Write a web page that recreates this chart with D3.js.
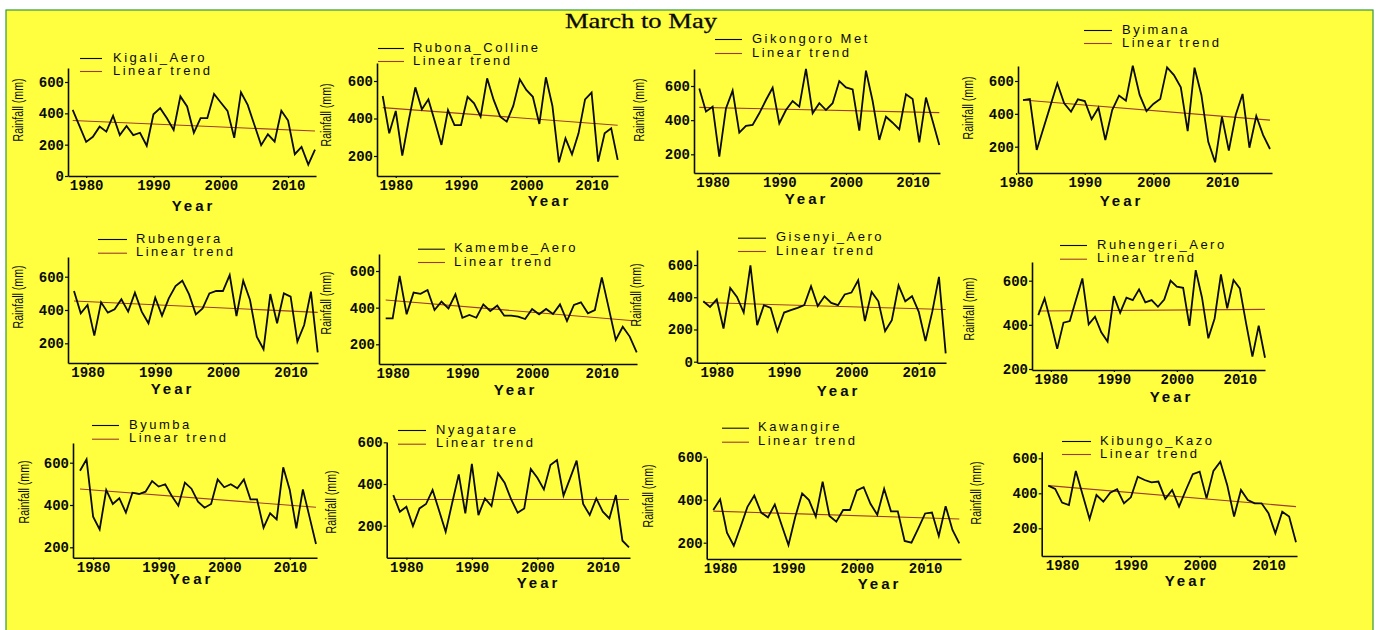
<!DOCTYPE html>
<html>
<head>
<meta charset="utf-8">
<script src="https://cdn.jsdelivr.net/npm/d3@7"></script>
<style>
  html, body { margin: 0; padding: 0; background: #ffffff; }
  svg { display: block; }
</style>
</head>
<body>
<svg id="chart" width="1378" height="630"></svg>
<script>
// ---- March to May rainfall (mm) per station ----
const stations = ["Kigali_Aero", "Rubona_Colline", "Gikongoro Met", "Byimana",
                  "Rubengera", "Kamembe_Aero", "Gisenyi_Aero", "Ruhengeri_Aero",
                  "Byumba", "Nyagatare", "Kawangire", "Kibungo_Kazo"];

// first year of each station's record
const startYears = [1978, 1978, 1978, 1981, 1978, 1979, 1978, 1978, 1978, 1978, 1979, 1978];

const kigaliAero    = [422,320,218,250,315,283,385,261,319,261,276,193,394,433,369,294,508,444,276,369,369,523,469,416,244,534,454,326,197,266,219,416,354,139,186,73,169];
const rubonaColline = [520,321,440,202,392,566,449,502,383,259,445,365,365,516,481,410,614,499,410,383,467,609,552,516,371,620,467,166,294,209,321,502,538,170,321,348,179];
const gikongoroMet  = [586,450,479,186,469,573,327,366,372,440,518,590,381,459,512,479,700,440,499,459,499,629,592,580,339,690,512,284,420,385,346,551,524,270,532,395,255];
const byimana       = [484,490,180,315,450,586,464,413,488,478,368,437,241,423,511,480,693,515,417,460,490,683,636,561,295,681,515,230,105,383,176,393,521,194,387,271,186];
const rubengera     = [514,380,430,246,446,384,404,464,390,504,390,320,474,366,470,544,576,494,374,410,500,514,514,610,364,576,460,240,164,496,320,500,480,210,310,510,146];
const kamembeAero   = [342,342,573,364,482,475,496,387,433,396,473,345,360,345,418,382,411,356,356,351,338,393,364,393,365,418,327,415,429,369,387,565,396,224,296,242,156];
const gisenyiAero   = [375,340,386,206,458,402,305,598,227,351,334,190,305,320,334,351,468,346,406,365,351,417,429,505,252,433,375,190,258,474,375,406,309,128,309,526,52];
const ruhengeriAero = [444,520,411,291,410,417,515,610,402,437,366,324,530,455,523,512,561,502,512,482,515,600,573,568,395,648,523,339,429,629,475,603,565,407,256,396,251];
const byumba        = [562,616,345,285,471,405,432,364,458,452,463,513,487,498,443,397,506,477,416,387,405,521,484,498,479,521,427,427,293,361,332,578,471,290,474,345,216];
const nyagatare     = [347,267,291,198,283,304,371,272,171,310,446,259,496,251,331,294,451,406,326,262,283,472,430,374,491,515,344,427,512,304,251,331,267,235,347,128,96];
const kawangire     = [352,402,247,186,274,367,419,340,318,378,282,189,321,429,398,321,484,324,298,352,352,443,458,381,330,451,346,346,208,200,267,336,340,231,370,259,197];
const kibungoKazo   = [444,425,347,333,528,390,253,390,352,404,423,343,377,495,476,463,467,368,419,324,419,509,524,371,528,581,448,267,419,362,343,343,286,171,295,267,120];

const rainfall = [kigaliAero, rubonaColline, gikongoroMet, byimana,
                  rubengera, kamembeAero, gisenyiAero, ruhengeriAero,
                  byumba, nyagatare, kawangire, kibungoKazo];

// linear trend value at the first and last year of each record
const trendStart = [354, 458, 475, 484, 454, 442, 367, 463, 476, 326, 347, 444];
const trendEnd   = [287, 364, 444, 362, 386, 327, 324, 470, 389, 326, 310, 324];

// tick labels
const yearTicks = [1980, 1990, 2000, 2010];
const rainTicksFromZero = [0, 200, 400, 600];
const rainTicks = [200, 400, 600];
const zeroTickPanels = ["Kigali_Aero", "Gisenyi_Aero"];

const titleText = "March to May";
const seriesLegend = "Linear trend";
const xLabel = "Year";
const yLabel = "Rainfall (mm)";

// ---- panel geometry (pixels) ----
// left/top/bottom/right: axis frame; px0/px1: first/last year; lo/loPx/hiPx: value anchors (hi = 600)
const layout = [
  {left:68,    top:68,    bottom:176,   right:316,  px0:72.7,   px1:315,    lo:0,   loPx:176,   hiPx:82,    lgX0:80,   lgX1:102,  lgTx:113,  lgY:[57,70],       yearX:192,  yearY:205, rainX:17,  rainY:110},
  {left:377,   top:63,    bottom:176,   right:618,  px0:382.7,  px1:617.7,  lo:200, loPx:156,   hiPx:81,    lgX0:378,  lgX1:404,  lgTx:413,  lgY:[47,60],       yearX:548,  yearY:200, rainX:325, rainY:115},
  {left:694,   top:69,    bottom:173,   right:940,  px0:699.3,  px1:939.3,  lo:200, loPx:154.3, hiPx:86,    lgX0:715,  lgX1:742,  lgTx:752,  lgY:[38,52],       yearX:805,  yearY:198, rainX:638, rainY:110},
  {left:1018,  top:66,    bottom:173,   right:1272, px0:1023,   px1:1270,   lo:200, loPx:146.7, hiPx:81,    lgX0:1084, lgX1:1112, lgTx:1122, lgY:[29,42],       yearX:1120, yearY:200, rainX:967, rainY:108},
  {left:68,    top:257,   bottom:363,   right:318,  px0:74,     px1:317.7,  lo:200, loPx:343.3, hiPx:276.7, lgX0:98,   lgX1:127,  lgTx:136,  lgY:[238,251.7],   yearX:171,  yearY:388, rainX:17,  rainY:297},
  {left:379,   top:254,   bottom:364,   right:637,  px0:385.7,  px1:636.7,  lo:200, loPx:344.3, hiPx:271,   lgX0:418,  lgX1:445,  lgTx:454,  lgY:[247.7,261],   yearX:514,  yearY:389, rainX:325, rainY:303},
  {left:697,   top:250,   bottom:362.7, right:946,  px0:703.3,  px1:945.7,  lo:0,   loPx:361.7, hiPx:265,   lgX0:738,  lgX1:766,  lgTx:776,  lgY:[236.7,250],   yearX:837,  yearY:390, rainX:635, rainY:295},
  {left:1032,  top:262,   bottom:370,   right:1265, px0:1038.3, px1:1265,   lo:200, loPx:369,   hiPx:280.7, lgX0:1060, lgX1:1087, lgTx:1097, lgY:[244,257.7],   yearX:1170, yearY:396, rainX:968, rainY:309},
  {left:73,    top:443,   bottom:557.7, right:317,  px0:80,     px1:316,    lo:200, loPx:547.3, hiPx:462.7, lgX0:92,   lgX1:119,  lgTx:129,  lgY:[424,437.7],   yearX:190,  yearY:578, rainX:23,  rainY:492},
  {left:386.7, top:442,   bottom:557.7, right:630,  px0:393.3,  px1:629,    lo:200, loPx:525.7, hiPx:442.3, lgX0:398,  lgX1:426,  lgTx:436,  lgY:[429,442.7],   yearX:537,  yearY:582, rainX:330, rainY:502},
  {left:706.7, top:458,   bottom:559,   right:961,  px0:713.3,  px1:959.3,  lo:200, loPx:542.7, hiPx:456.7, lgX0:722,  lgX1:749,  lgTx:758,  lgY:[426.7,440.7], yearX:878,  yearY:583, rainX:647, rainY:496},
  {left:1041.7,top:451.7, bottom:556,   right:1297, px0:1048.3, px1:1296,   lo:200, loPx:528.3, hiPx:458.3, lgX0:1062, lgX1:1091, lgTx:1100, lgY:[440,453],     yearX:1185, yearY:580, rainX:975, rainY:493}
];

// ---- styles ----
const PANEL_BG = "#ffff40";
const FRAME = "#2f9a3c";
const TREND = "#9e3a2c";
const INK = "#0a0a0a";
const TICK_FONT = "'Liberation Mono', 'DejaVu Sans Mono', monospace";
const SANS = "'Liberation Sans', Arial, sans-serif";

const svg = d3.select("#chart");

svg.append("rect")
  .attr("x", 6).attr("y", 10)
  .attr("width", 1367).attr("height", 625)
  .attr("fill", PANEL_BG)
  .attr("stroke", FRAME).attr("stroke-width", 1.2);

svg.append("text")
  .attr("x", 565).attr("y", 28)
  .attr("textLength", 152).attr("lengthAdjust", "spacingAndGlyphs")
  .style("font-family", "'Liberation Serif', 'Times New Roman', serif")
  .style("font-size", "22px")
  .attr("fill", INK)
  .attr("stroke", INK).attr("stroke-width", 0.3)
  .text(titleText);

stations.forEach((name, i) => {
  const L = layout[i];
  const values = rainfall[i];
  const years = values.map((_, k) => startYears[i] + k);
  const lastYear = years[years.length - 1];

  const x = d3.scaleLinear().domain([startYears[i], lastYear]).range([L.px0, L.px1]);
  const y = d3.scaleLinear().domain([L.lo, 600]).range([L.loPx, L.hiPx]);
  y.domain([y.invert(L.bottom), y.invert(L.top)]).range([L.bottom, L.top]);

  const g = svg.append("g").attr("class", "panel");

  // y axis
  const yTicks = zeroTickPanels.includes(name) ? rainTicksFromZero : rainTicks;
  const yAxis = g.append("g")
    .attr("transform", `translate(${L.left},0)`)
    .call(d3.axisLeft(y).tickValues(yTicks).tickSize(3).tickSizeOuter(0).tickPadding(1).tickFormat(d3.format("d")));

  // x axis
  const xa = x.copy().domain([x.invert(L.left), x.invert(L.right)]).range([L.left, L.right]);
  const xAxis = g.append("g")
    .attr("transform", `translate(0,${L.bottom})`)
    .call(d3.axisBottom(xa).tickValues(yearTicks).tickSize(2).tickSizeOuter(0).tickPadding(2).tickFormat(d3.format("d")));

  [yAxis, xAxis].forEach(ax => {
    ax.select(".domain").attr("stroke", INK).attr("stroke-width", 1.6);
    ax.selectAll(".tick line").attr("stroke", INK).attr("stroke-width", 1.2);
    ax.selectAll(".tick text")
      .attr("fill", INK)
      .style("font-family", TICK_FONT)
      .style("font-weight", "bold")
      .style("font-size", "14px");
  });

  // trend line
  g.append("line")
    .attr("x1", x(startYears[i])).attr("y1", y(trendStart[i]))
    .attr("x2", x(lastYear)).attr("y2", y(trendEnd[i]))
    .attr("stroke", TREND).attr("stroke-width", 1.1);

  // rainfall series
  g.append("path")
    .datum(values)
    .attr("fill", "none")
    .attr("stroke", INK)
    .attr("stroke-width", 1.8)
    .attr("stroke-linejoin", "miter")
    .attr("d", d3.line().x((d, k) => x(years[k])).y(d => y(d)));

  // legend
  const legendItems = [{label: name, color: INK}, {label: seriesLegend, color: TREND}];
  legendItems.forEach((item, k) => {
    g.append("line")
      .attr("x1", L.lgX0).attr("x2", L.lgX1)
      .attr("y1", L.lgY[k] + 1.5).attr("y2", L.lgY[k] + 1.5)
      .attr("stroke", item.color).attr("stroke-width", 1.1);
    g.append("text")
      .attr("x", L.lgTx).attr("y", L.lgY[k])
      .attr("dominant-baseline", "central")
      .style("font-family", SANS)
      .style("font-size", "13px")
      .style("letter-spacing", "2.5px")
      .attr("fill", INK)
      .text(item.label);
  });

  // axis titles
  g.append("text")
    .attr("x", L.yearX + 1.5).attr("y", L.yearY)
    .attr("text-anchor", "middle")
    .attr("dominant-baseline", "central")
    .style("font-family", SANS)
    .style("font-weight", "bold")
    .style("font-size", "15px")
    .style("letter-spacing", "3px")
    .attr("fill", INK)
    .text(xLabel);

  g.append("text")
    .attr("transform", `translate(${L.rainX},${L.rainY}) rotate(-90)`)
    .attr("text-anchor", "middle")
    .attr("dominant-baseline", "central")
    .attr("textLength", 63).attr("lengthAdjust", "spacingAndGlyphs")
    .style("font-family", SANS)
    .style("font-size", "15px")
    .attr("fill", INK)
    .text(yLabel);
});
</script>
</body>
</html>
